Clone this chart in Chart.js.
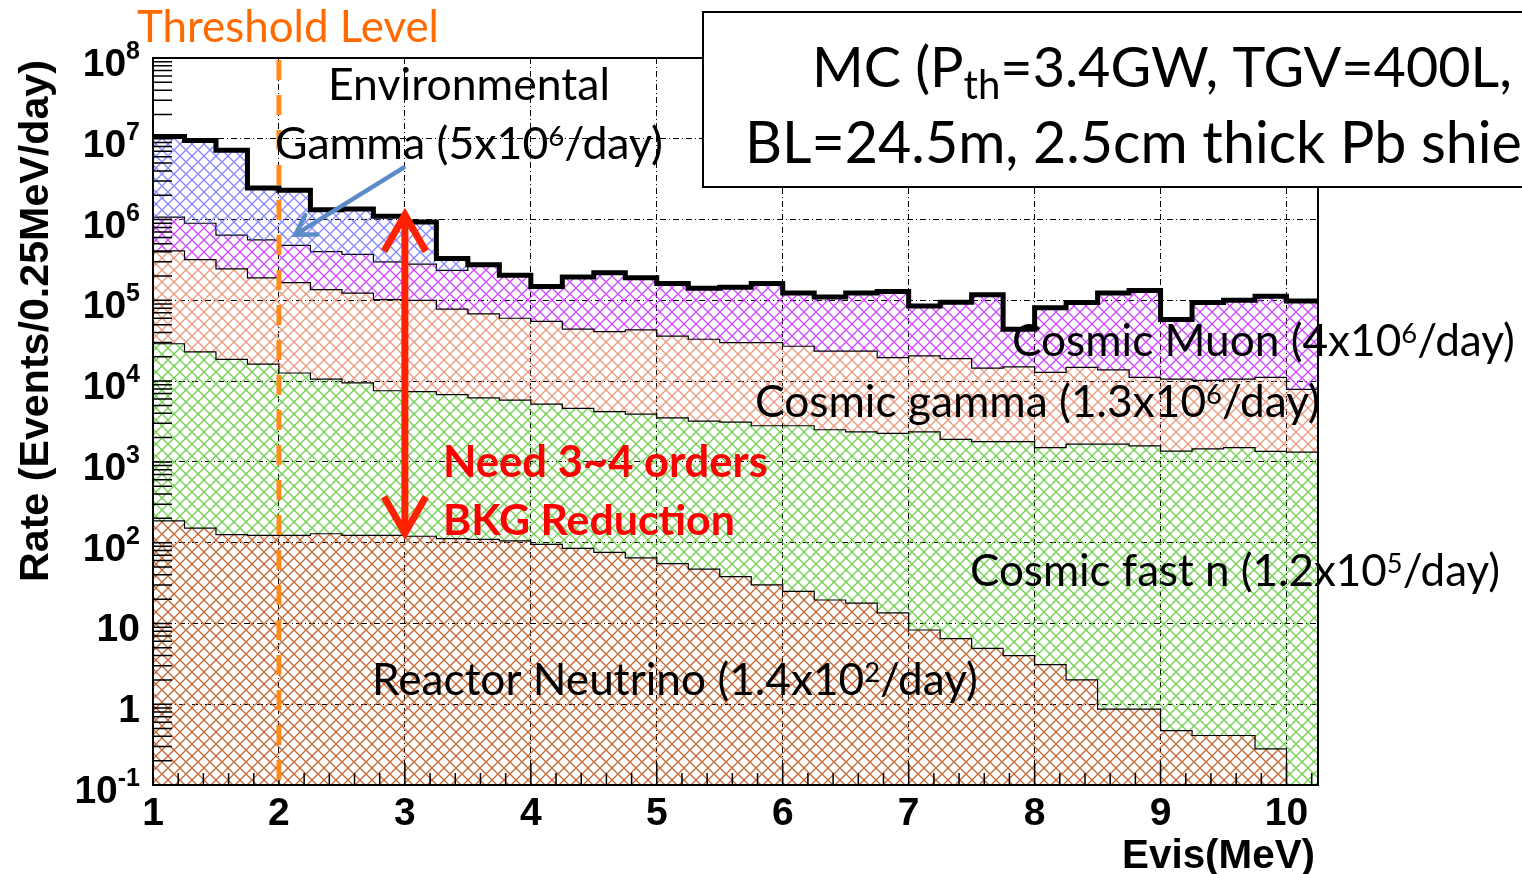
<!DOCTYPE html>
<html>
<head>
<meta charset="utf-8">
<script src="https://cdn.jsdelivr.net/npm/chart.js@4"></script>
<style>
  html, body { margin: 0; padding: 0; background: #fff; }
  canvas { display: block; }
</style>
</head>
<body>
<canvas id="bkg-chart" width="1522" height="874"></canvas>
<script>
// lower edge of each 0.25 MeV bin (MeV)
var binLow = [1.00, 1.25, 1.50, 1.75, 2.00, 2.25, 2.50, 2.75, 3.00, 3.25, 3.50, 3.75,
              4.00, 4.25, 4.50, 4.75, 5.00, 5.25, 5.50, 5.75, 6.00, 6.25, 6.50, 6.75,
              7.00, 7.25, 7.50, 7.75, 8.00, 8.25, 8.50, 8.75, 9.00, 9.25, 9.50, 9.75, 10.00];
var binWidth = 0.25;

// stacked levels (Events/0.25MeV/day), top of each layer
var totalLevel = [1.07e7, 9.5e6, 7.2e6, 2.45e6, 2.3e6, 1.32e6, 1.35e6, 1.1e6, 9.3e5, 3.3e5, 2.75e5, 2.05e5,
                  1.48e5, 1.95e5, 2.2e5, 1.9e5, 1.62e5, 1.41e5, 1.45e5, 1.62e5, 1.23e5, 1.1e5, 1.23e5, 1.29e5,
                  8.5e4, 9.5e4, 1.17e5, 4.4e4, 8.1e4, 9.4e4, 1.23e5, 1.32e5, 5.8e4, 9.4e4, 1.0e5, 1.12e5, 9.8e4];
var muonLevel = [1.07e6, 9.0e5, 6.4e5, 5.6e5, 4.8e5, 4.0e5, 3.7e5, 3.0e5, 2.8e5, 2.35e5, 2.75e5, 2.05e5,
                 1.48e5, 1.95e5, 2.2e5, 1.9e5, 1.62e5, 1.41e5, 1.45e5, 1.62e5, 1.23e5, 1.1e5, 1.23e5, 1.29e5,
                 8.5e4, 9.5e4, 1.17e5, 4.4e4, 8.1e4, 9.4e4, 1.23e5, 1.32e5, 5.8e4, 9.4e4, 1.0e5, 1.12e5, 9.8e4];
var gammaLevel = [4.1e5, 3.2e5, 2.45e5, 1.9e5, 1.66e5, 1.36e5, 1.23e5, 1.02e5, 1.0e5, 7.8e4, 6.8e4, 6.0e4,
                  5.5e4, 4.4e4, 4.1e4, 4.3e4, 3.6e4, 3.3e4, 3.0e4, 3.0e4, 2.7e4, 2.35e4, 2.35e4, 1.95e4,
                  2.05e4, 1.9e4, 1.45e4, 1.5e4, 1.28e4, 1.48e4, 1.38e4, 1.11e4, 1.06e4, 1.02e4, 1.06e4, 1.11e4, 7.9e3];
var fastnLevel = [2.9e4, 2.3e4, 1.86e4, 1.62e4, 1.26e4, 1.06e4, 9.5e3, 7.6e3, 7.4e3, 6.8e3, 6.2e3, 5.8e3,
                  5.2e3, 4.6e3, 4.2e3, 3.9e3, 3.5e3, 3.2e3, 3.1e3, 2.8e3, 2.8e3, 2.5e3, 2.35e3, 2.25e3,
                  2.35e3, 1.9e3, 1.78e3, 1.78e3, 1.5e3, 1.66e3, 1.66e3, 1.58e3, 1.36e3, 1.45e3, 1.5e3, 1.35e3, 1.32e3];
var reactorLevel = [186, 151, 126, 123, 123, 129, 123, 123, 120, 112, 110, 105,
                    95, 85, 76, 65, 55, 47, 38, 30, 25, 19.5, 17.8, 13.5,
                    8.3, 6.5, 4.9, 4.0, 3.1, 2.0, 0.87, 0.87, 0.47, 0.41, 0.41, 0.28, 0.01]; // last bin empty

var xTicks = [1, 2, 3, 4, 5, 6, 7, 8, 9, 10];
var yTicks = [0.1, 1, 10, 1e2, 1e3, 1e4, 1e5, 1e6, 1e7, 1e8];

var canvas = document.getElementById('bkg-chart');
var ctx = canvas.getContext('2d');

// cross hatch fill like the ROOT plot
function hatch(color) {
  var s = 12;
  var c = document.createElement('canvas');
  c.width = s; c.height = s;
  var g = c.getContext('2d');
  g.strokeStyle = color;
  g.lineWidth = 1.3;
  g.beginPath();
  g.moveTo(-1, -1); g.lineTo(s + 1, s + 1);
  g.moveTo(-1, s + 1); g.lineTo(s + 1, -1);
  g.stroke();
  return ctx.createPattern(c, 'repeat');
}

function histPoints(levels) {
  var pts = [];
  for (var i = 0; i < binLow.length; i++) {
    pts.push({x: binLow[i], y: levels[i]});
    pts.push({x: binLow[i] + binWidth, y: levels[i]});
  }
  return pts;
}

function layer(label, levels, color, fill, width, order) {
  return {
    label: label,
    data: histPoints(levels),
    borderColor: '#000',
    borderWidth: width,
    backgroundColor: hatch(color),
    fill: fill,
    pointRadius: 0,
    tension: 0,
    order: order
  };
}

// superscript / subscript text pieces
function richWidth(c, parts, size, weight, family) {
  var w = 0;
  parts.forEach(function (p) {
    var s = p[1] === 'sup' ? size * 0.62 : p[1] === 'sub' ? size * 0.72 : size;
    c.font = weight + ' ' + s + 'px ' + family;
    w += c.measureText(p[0]).width;
  });
  return w;
}
function drawRich(c, parts, x, y, size, weight, family, color) {
  var cx = x;
  c.fillStyle = color;
  c.textBaseline = 'alphabetic';
  c.textAlign = 'left';
  parts.forEach(function (p) {
    var s = size, dy = 0;
    if (p[1] === 'sup') { s = size * 0.62; dy = -size * 0.3; }
    if (p[1] === 'sub') { s = size * 0.72; dy = size * 0.22; }
    c.font = weight + ' ' + s + 'px ' + family;
    c.fillText(p[0], cx, y + dy);
    cx += c.measureText(p[0]).width;
  });
}
function drawFit(c, parts, x, y, w, weight, color) {
  var size = 100 * w / richWidth(c, parts, 100, weight, 'Lato');
  drawRich(c, parts, x, y, size, weight, 'Lato', color);
  return size;
}

var notes = [
  {parts: [['Threshold Level']], x: 137, y: 42, w: 302, color: '#ff6a00'},
  {parts: [['Environmental']], x: 328, y: 100, w: 282},
  {parts: [['Gamma (5x10'], ['6', 'sup'], ['/day)']], x: 275, y: 159, w: 388},
  {parts: [['Need 3~4 orders']], x: 443, y: 477, w: 325, color: '#ff0000', bold: true},
  {parts: [['BKG Reduction']], x: 443, y: 535, w: 292, color: '#ff0000', bold: true},
  {parts: [['Cosmic Muon (4x10'], ['6', 'sup'], ['/day)']], x: 1012, y: 356, w: 503},
  {parts: [['Cosmic gamma (1.3x10'], ['6', 'sup'], ['/day)']], x: 755, y: 417, w: 565},
  {parts: [['Cosmic fast n (1.2x10'], ['5', 'sup'], ['/day)']], x: 970, y: 586, w: 530},
  {parts: [['Reactor Neutrino (1.4x10'], ['2', 'sup'], ['/day)']], x: 372, y: 695, w: 606}
];

function arrowHead(c, tx, ty, fx, fy, len, ang) {
  var a = Math.atan2(fy - ty, fx - tx);
  c.beginPath();
  c.moveTo(tx + len * Math.cos(a - ang), ty + len * Math.sin(a - ang));
  c.lineTo(tx, ty);
  c.lineTo(tx + len * Math.cos(a + ang), ty + len * Math.sin(a + ang));
  c.stroke();
}

var overlay = {
  id: 'overlay',
  afterDraw: function (chart) {
    var c = chart.ctx, a = chart.chartArea, xs = chart.scales.x, ys = chart.scales.y;
    c.save();

    // frame and inner ticks
    c.strokeStyle = '#000';
    c.lineWidth = 1.5;
    c.beginPath();
    for (var k = -1; k < 8; k++) {
      for (var m = 1; m < 10; m++) {
        var py = ys.getPixelForValue(m * Math.pow(10, k));
        c.moveTo(a.left, py); c.lineTo(a.left + 19, py);
      }
    }
    for (var t = 10; t <= 102; t += 2) {
      var px = xs.getPixelForValue(t / 10);
      c.moveTo(px, a.bottom); c.lineTo(px, a.bottom - (t % 10 === 0 ? 22 : 12));
    }
    c.stroke();
    c.lineWidth = 2;
    c.strokeRect(a.left, a.top, a.right - a.left, a.bottom - a.top);

    // axis labels
    c.fillStyle = '#000';
    c.textAlign = 'center';
    c.textBaseline = 'alphabetic';
    c.font = 'bold 39px "Liberation Sans"';
    xTicks.forEach(function (v) {
      c.fillText(String(v), xs.getPixelForValue(v), a.bottom + 40);
    });
    yTicks.forEach(function (v) {
      var e = Math.round(Math.log10(v));
      var py = ys.getPixelForValue(v) + 18;
      var parts = e === 0 ? [['1']] : e === 1 ? [['10']] : [['10'], [String(e), 'sup']];
      var w = 0;
      parts.forEach(function (p) {
        c.font = 'bold ' + (p[1] ? 25 : 39) + 'px "Liberation Sans"';
        w += c.measureText(p[0]).width;
      });
      var cx = 140 - w;
      c.textAlign = 'left';
      parts.forEach(function (p) {
        c.font = 'bold ' + (p[1] ? 25 : 39) + 'px "Liberation Sans"';
        c.fillText(p[0], cx, p[1] ? py - 17 : py);
        cx += c.measureText(p[0]).width;
      });
    });
    c.font = 'bold 36px "Liberation Sans"';
    var tw = c.measureText('Evis(MeV)').width;
    c.font = 'bold ' + (36 * 193 / tw) + 'px "Liberation Sans"';
    c.textAlign = 'right';
    c.fillText('Evis(MeV)', 1315, 868);
    c.save();
    c.translate(48, 582);
    c.rotate(-Math.PI / 2);
    c.font = 'bold 36px "Liberation Sans"';
    tw = c.measureText('Rate (Events/0.25MeV/day)').width;
    c.font = 'bold ' + (36 * 522 / tw) + 'px "Liberation Sans"';
    c.textAlign = 'left';
    c.fillText('Rate (Events/0.25MeV/day)', 0, 0);
    c.restore();

    // threshold line at 2 MeV
    var x2 = xs.getPixelForValue(2);
    c.strokeStyle = '#ff8c1a';
    c.lineWidth = 5;
    c.setLineDash([20, 15]);
    c.beginPath();
    c.moveTo(x2, a.top + 2); c.lineTo(x2, a.bottom);
    c.stroke();
    c.setLineDash([]);

    // required reduction arrow at 3 MeV
    var x3 = xs.getPixelForValue(3);
    var yTop = ys.getPixelForValue(1.25e6), yBot = ys.getPixelForValue(1.2e2);
    c.strokeStyle = '#ff2200';
    c.lineWidth = 7;
    c.lineJoin = 'miter';
    c.beginPath();
    c.moveTo(x3, yTop + 3); c.lineTo(x3, yBot - 3);
    c.stroke();
    arrowHead(c, x3, yTop + 3, x3, yBot, 42, 0.52);
    arrowHead(c, x3, yBot - 3, x3, yTop, 42, 0.52);

    // environmental gamma pointer
    var bx0 = xs.getPixelForValue(2.99), by0 = ys.getPixelForValue(4.4e6);
    var bx1 = xs.getPixelForValue(2.13), by1 = ys.getPixelForValue(6.5e5);
    c.strokeStyle = '#5b8cc8';
    c.lineWidth = 4.5;
    c.lineCap = 'round';
    c.beginPath();
    c.moveTo(bx0, by0); c.lineTo(bx1, by1);
    c.stroke();
    arrowHead(c, bx1, by1, bx0, by0, 22, 0.55);
    c.lineCap = 'butt';

    // text notes
    notes.forEach(function (n) {
      drawFit(c, n.parts, n.x, n.y, n.w, n.bold ? 'bold' : 'normal', n.color || '#000');
    });

    // MC condition box
    c.fillStyle = '#fff';
    c.fillRect(703, 12, 830, 175);
    c.strokeStyle = '#000';
    c.lineWidth = 2;
    c.strokeRect(703, 12, 830, 175);
    drawFit(c, [['MC (P'], ['th', 'sub'], ['=3.4GW, TGV=400L,']], 812, 87, 700, 'normal', '#000');
    var line2 = 'BL=24.5m, 2.5cm thick Pb shield)';
    var sz2 = 100 * 777 / richWidth(c, [['BL=24.5m, 2.5cm thick Pb shie']], 100, 'normal', 'Lato');
    drawRich(c, [[line2]], 745, 163, sz2, 'normal', 'Lato', '#000');

    c.restore();
  }
};

var chart = new Chart(canvas, {
  type: 'line',
  data: {
    datasets: [
      layer('Reactor Neutrino', reactorLevel, 'rgba(190,95,40,0.95)', 'start', 1.2, 0),
      layer('Cosmic fast n', fastnLevel, 'rgba(95,200,60,0.9)', '-1', 1.2, 0),
      layer('Cosmic gamma', gammaLevel, 'rgba(228,140,110,0.9)', '-1', 1.2, 0),
      layer('Cosmic Muon', muonLevel, 'rgba(200,50,255,0.9)', '-1', 1.2, 0),
      layer('Environmental Gamma', totalLevel, 'rgba(110,110,255,0.85)', '-1', 5, -1)
    ]
  },
  options: {
    responsive: false,
    animation: false,
    layout: {padding: {top: 58, right: 204, left: 0, bottom: 0}},
    plugins: {legend: {display: false}, tooltip: {enabled: false}},
    scales: {
      x: {
        type: 'linear', min: 1, max: 10.25,
        afterBuildTicks: function (s) { s.ticks = xTicks.map(function (v) { return {value: v}; }); },
        afterFit: function (s) { s.height = 89; },
        ticks: {display: false},
        grid: {color: '#000', lineWidth: 1, drawTicks: false},
        border: {display: false, dash: [6, 3, 1, 3]}
      },
      y: {
        type: 'logarithmic', min: 0.1, max: 1e8,
        afterBuildTicks: function (s) { s.ticks = yTicks.map(function (v) { return {value: v}; }); },
        afterFit: function (s) { s.width = 153; },
        ticks: {display: false},
        grid: {color: '#000', lineWidth: 1, drawTicks: false},
        border: {display: false, dash: [6, 3, 1, 3]}
      }
    }
  },
  plugins: [overlay]
});
</script>
</body>
</html>
